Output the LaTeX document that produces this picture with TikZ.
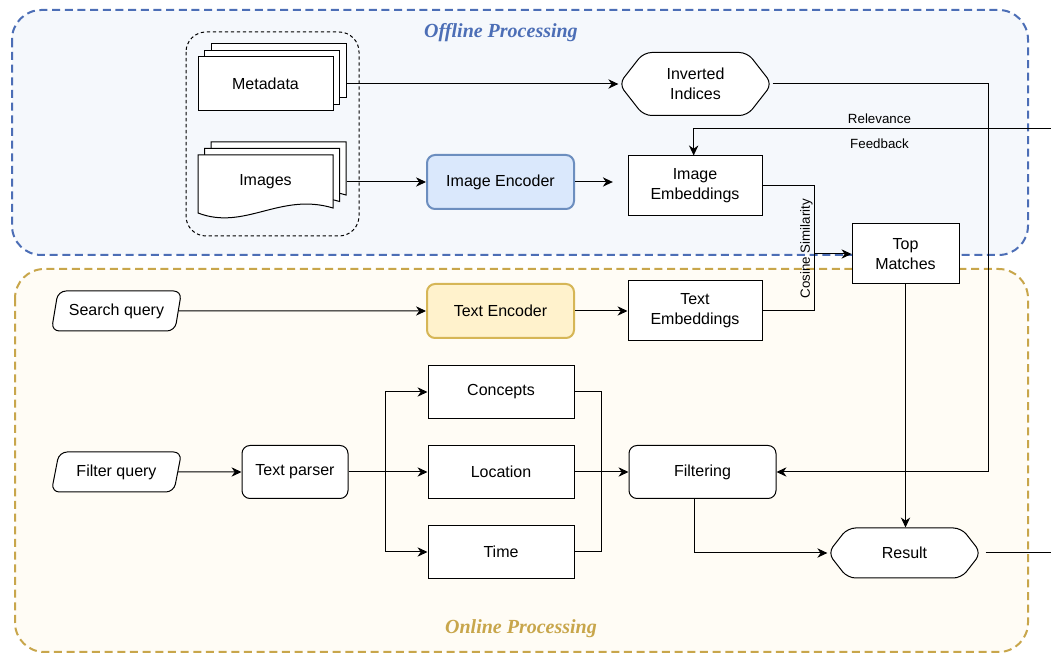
\documentclass[tikz,border=0pt]{standalone}
\usepackage{fontspec}
\setmainfont{Liberation Sans}
\newfontfamily\titlefont{Liberation Serif}
\usetikzlibrary{arrows.meta}
\usetikzlibrary{shapes.geometric, shapes.symbols, shadows}
\definecolor{offblue}{RGB}{76,110,182}
\definecolor{offfill}{RGB}{245,248,252}
\definecolor{ongold}{RGB}{200,166,75}
\definecolor{onfill}{RGB}{255,252,245}
\definecolor{encblue}{HTML}{DAE8FC}
\definecolor{encbluedraw}{HTML}{6C8EBF}
\definecolor{encyellow}{HTML}{FFF2CC}
\definecolor{encyellowdraw}{HTML}{D6B656}
\tikzset{
  pics/wavedoc/.style={code={
    \draw[fill=white] (-67.5,-27) -- (67.5,-27) -- (67.5,26)
      .. controls (14.5,10) and (-20.5,49) .. (-67.5,31) -- cycle;
  }}
}

\begin{document}
\begin{tikzpicture}[x=0.75pt, y=-0.75pt, line width=0.75pt,
    font=\fontsize{12}{15}\selectfont,
    plainbox/.style={draw, fill=white, align=center, inner sep=0pt},
    roundbox/.style={plainbox, rounded corners=6pt},
    encoder/.style={roundbox, line width=1.5pt, minimum width=110.25pt, minimum height=40.5pt},
    querybox/.style={draw, fill=white, trapezium, trapezium left angle=70, trapezium right angle=110,
      trapezium stretches=true, rounded corners=6pt, inner sep=0pt, minimum width=98.25pt, minimum height=30pt},
    hexbox/.style={draw, fill=white, signal, signal to=west and east, signal pointer angle=104,
      rounded corners=6pt, inner sep=0pt, align=center},
    stackbox/.style={general shadow={shadow xshift=9.75pt, shadow yshift=9.75pt, fill=white, draw=black},
      general shadow={shadow xshift=4.9pt, shadow yshift=4.9pt, fill=white, draw=black}},
    flow/.style={-{Stealth[length=7.5pt, width=7pt, inset=2.4pt]}},
    smalltext/.style={font=\fontsize{10}{12}\selectfont},
    title/.style={font=\titlefont\fontsize{15}{18}\selectfont\bfseries\itshape}]
  \useasboundingbox (0,0) rectangle (1051,655);

  % containers
  \draw[offblue, fill=offfill, line width=1.5pt, dash pattern=on 6pt off 3.5pt, rounded corners=22pt]
    (12,10) rectangle (1028,255);
  \draw[ongold, fill=onfill, line width=1.5pt, dash pattern=on 6pt off 3.5pt, rounded corners=22pt]
    (15,269) rectangle (1028,652);
  \node[title, text=offblue] (offtitle) at (501,33) {Offline Processing};
  \node[title, text=ongold] (ontitle) at (521,629) {Online Processing};
  \draw[dash pattern=on 2.5pt off 2pt, rounded corners=15pt] (186,32) rectangle (359,236);

  % offline part
  \node[plainbox, stackbox, minimum width=101.25pt, minimum height=40.5pt] (meta) at (265.5,84) {Metadata};
  \pic at (278.5,169) {wavedoc};
  \pic at (272,175.5) {wavedoc};
  \pic at (265.5,182) {wavedoc};
  \node[inner sep=0pt, minimum width=101.25pt] (img) at (265.5,182) {Images};
  \node[hexbox, minimum width=114.75pt, minimum height=47.25pt] (inv) at (695.5,84) {Inverted\\Indices};
  \node[encoder, fill=encblue, draw=encbluedraw] (ienc) at (500.5,182) {Image Encoder};
  \node[plainbox, minimum width=100.5pt, minimum height=45pt] (iemb) at (695,186) {Image\\Embeddings};
  \node[plainbox, minimum width=80.25pt, minimum height=45pt] (top) at (905.5,254) {Top\\Matches};

  % online part
  \node[querybox] (search) at (116.5,311) {Search query};
  \node[encoder, fill=encyellow, draw=encyellowdraw] (tenc) at (500.5,311) {Text Encoder};
  \node[plainbox, minimum width=100.5pt, minimum height=45pt] (temb) at (695,311) {Text\\Embeddings};
  \node[querybox] (filterq) at (116.5,472) {Filter query};
  \node[roundbox, minimum width=79.5pt, minimum height=39.75pt] (parser) at (295,472) {Text parser};
  \node[plainbox, minimum width=109.5pt, minimum height=39.75pt] (conc) at (501,392) {Concepts};
  \node[plainbox, minimum width=109.5pt, minimum height=39.75pt] (loc) at (501,472) {Location};
  \node[plainbox, minimum width=109.5pt, minimum height=39.75pt] (time) at (501,552) {Time};
  \node[roundbox, minimum width=110.25pt, minimum height=39.75pt] (filt) at (702.5,472) {Filtering};
  \node[hexbox, minimum width=114.75pt, minimum height=37.5pt] (res) at (904.5,553) {Result};
  \coordinate (fbin) at (1051,129);
  \coordinate (resout) at (1051,553);

  % connectors
  \draw[flow] ([xshift=9.75pt]meta.east) -- (inv.west);
  \draw[flow] ([xshift=9.75pt]img.east) -- (ienc.west);
  \draw[flow, shorten >=11pt] (ienc.east) -- (ienc.east -| iemb.west);
  \draw[flow] (fbin) -| node[smalltext, pos=.24, above] {Relevance}
    node[smalltext, pos=.24, below=4pt] {Feedback} ([xshift=-1pt]iemb.north);
  \draw (iemb.east) -- ++(52,0) coordinate (cosx) |- (temb.east);
  \draw[flow] (cosx |- top.west) -- (top.west);
  \node[smalltext, rotate=90, anchor=south, inner sep=1pt] (coslbl) at ([yshift=4pt]cosx |- top.west) {Cosine Similarity};
  \draw[flow] (search.east) -- (tenc.west);
  \draw[flow] (tenc.east) -- (temb.west);
  \draw[flow] (filterq.east) -- (parser.west);
  \draw (parser.east) -- ++(37,0) coordinate (fork);
  \draw[flow] (fork) |- (conc.west);
  \draw[flow] (fork) |- (time.west);
  \draw[flow] (fork) -- (loc.west);
  \draw (conc.east) -- ++(27,0) |- (time.east);
  \draw[flow] (loc.east) -- (filt.west);
  \draw[flow] (inv.east) -- ++(216,0) |- (filt.east);
  \draw[flow] ([xshift=-6pt]filt.south) |- (res.west);
  \draw[flow] (top.south) -- (top.south |- res.north);
  \draw ([xshift=3pt]res.east) -- (resout);
\end{tikzpicture}
\end{document}
